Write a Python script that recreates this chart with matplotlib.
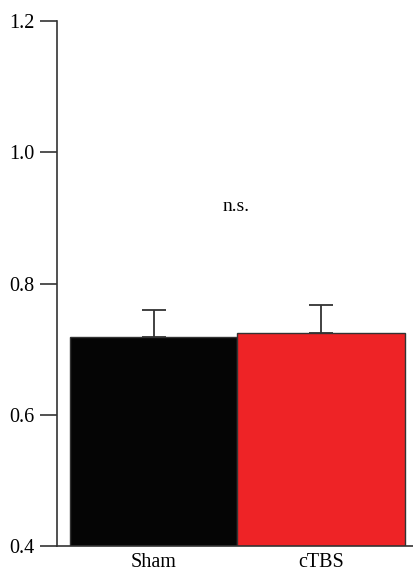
import numpy as np
import matplotlib.pyplot as plt

groups = ['Sham', 'cTBS']
means = [0.718, 0.725]
errors = [0.042, 0.043]
bar_colors = ['#050505', '#ee2326']
yticks = [0.4, 0.6, 0.8, 1.0, 1.2]
sig_label = 'n.s.'

plt.rcParams['font.family'] = ['Liberation Serif', 'DejaVu Serif']

fig = plt.figure(figsize=(4.14, 5.75), dpi=100)
ax = fig.add_axes([57 / 414, 1 - 546 / 575, 1 - 57 / 414, (546 - 21) / 575])

x = np.arange(len(groups))
ax.bar(x, means, width=1.0, color=bar_colors, edgecolor='#333333', linewidth=1.0, zorder=2)
ax.errorbar(x, means, yerr=[np.zeros(len(errors)), errors], fmt='none',
            ecolor='#333333', elinewidth=1.3, capsize=8.6, capthick=1.3, zorder=1)

ax.text(0.49, 0.918, sig_label, ha='center', va='center', fontsize=14)

ax.set_ylim(0.4, 1.2)
ax.set_xlim(-0.577, 1.554)
ax.set_yticks(yticks)
ax.set_yticklabels([f'{v:.1f}' for v in yticks], fontsize=14.5)
ax.set_xticks(x)
ax.set_xticklabels(groups, fontsize=14.5)

for side in ['top', 'right']:
    ax.spines[side].set_visible(False)
for side in ['left', 'bottom']:
    ax.spines[side].set_color('#333333')
    ax.spines[side].set_linewidth(1.2)
ax.tick_params(axis='y', direction='out', length=12, width=1.2, color='#333333', pad=4)
ax.tick_params(axis='x', length=0, pad=5)

fig.savefig('out.png', dpi=100)
